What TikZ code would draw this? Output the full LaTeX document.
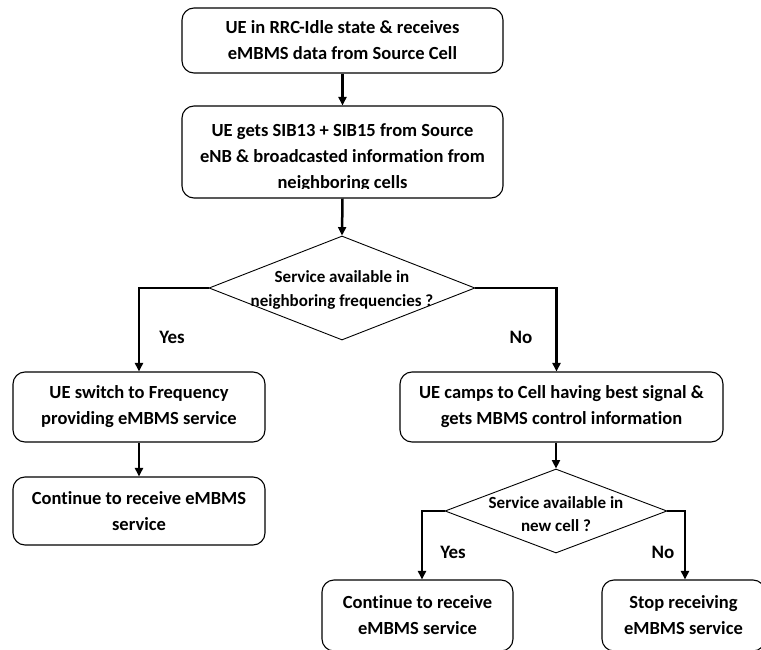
\documentclass[tikz,border=0pt]{standalone}
\usepackage{fontspec}
\setmainfont[Ligatures=CommonOff]{Carlito}
\usetikzlibrary{arrows.meta,shapes.geometric}

\begin{document}
\begin{tikzpicture}[x=1pt,y=-1pt,
  box/.style={draw, line width=1.1pt, rounded corners=12pt, inner sep=0pt,
    align=center, font=\fontsize{18.5}{26}\bfseries\selectfont},
  dec/.style={draw, line width=0.9pt, shape=diamond, inner sep=0pt},
  dectext/.style={align=center, inner sep=0pt,
    font=\fontsize{17}{23.5}\bfseries\selectfont},
  answer/.style={inner sep=0pt, font=\fontsize{19}{22}\bfseries\selectfont},
  arr/.style={line width=2.5pt, -{Triangle[length=8.5pt,width=8pt]}}]

\useasboundingbox (0,0) rectangle (761,650);
\clip (0,0) rectangle (761,650);

% process boxes
\node[box, minimum width=321pt, minimum height=65pt] (b1) at (342.5,40.5)
  {UE in RRC-Idle state \& receives\\eMBMS data from Source Cell};
\node[box, minimum width=321pt, minimum height=92pt] (b2) at (342.5,152) {};
\begin{scope}
  \clip (182,106) rectangle (503,189);
  \node[align=center, inner sep=0pt, font=\fontsize{18.5}{26}\bfseries\selectfont]
    (b2text) at (342.5,158)
    {UE gets SIB13 + SIB15 from Source\\eNB \& broadcasted information from\\neighboring cells};
\end{scope}

\node[box, minimum width=252pt, minimum height=70pt] (b3) at (139,407)
  {UE switch to Frequency\\providing eMBMS service};
\node[box, minimum width=252pt, minimum height=68pt] (b4) at (139,511)
  {Continue to receive eMBMS\\service};
\node[box, minimum width=323pt, minimum height=70pt] (b5) at (561.5,407)
  {UE camps to Cell having best signal \&\\gets MBMS control information};
\node[box, minimum width=191pt, minimum height=71pt] (b6) at (417.5,615.5)
  {Continue to receive\\eMBMS service};
\node[box, minimum width=163pt, minimum height=71pt] (b7) at (683.5,615.5)
  {Stop receiving\\eMBMS service};

% decisions
\node[dec, minimum width=266pt, minimum height=104pt] (d1) at (342,288) {};
\node[dectext] (d1text) at (342,290)
  {Service available in\\neighboring frequencies ?};
\node[dec, minimum width=222pt, minimum height=84pt] (d2) at (556,511) {};
\node[dectext] (d2text) at (556,514)
  {Service available in\\new cell ?};

% branch labels
\node[answer] (yes1) at (172,337) {Yes};
\node[answer] (no1) at (521,337) {No};
\node[answer] (yes2) at (453,552) {Yes};
\node[answer] (no2) at (663,552) {No};

% connectors
\draw[arr] (b1.south) -- (b2.north);
\draw[arr] (b2.south) -- (d1.north);
\draw[arr] (d1.west) -| (b3.north);
\draw[arr] (d1.east) -| ([xshift=-5pt]b5.north);
\draw[arr] (b3.south) -- (b4.north);
\draw[arr] (d2.north |- b5.south) -- (d2.north);
\draw[arr] (d2.west) -| ([xshift=4.5pt]b6.north);
\draw[arr] (d2.east) -| ([xshift=1.5pt]b7.north);
\end{tikzpicture}
\end{document}
